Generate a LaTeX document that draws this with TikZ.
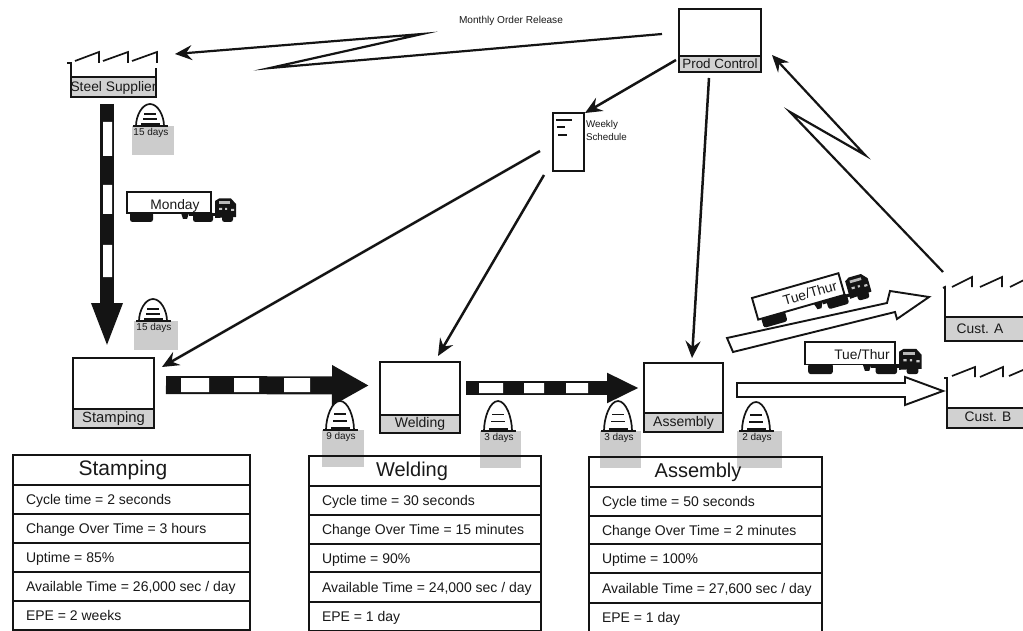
\documentclass[tikz,border=0pt]{standalone}
\usepackage{fontspec}
\setmainfont{Liberation Sans}
\usetikzlibrary{arrows.meta,fit,calc}
\definecolor{ink}{gray}{0.08}
\definecolor{txt}{gray}{0.1}
\definecolor{patch}{gray}{0.8}
\definecolor{lblgray}{gray}{0.82}
\newcommand\fs[1]{\fontsize{#1}{#1}\selectfont}
\tikzset{
  boxst/.style={draw=ink,line width=1.9pt,inner sep=0pt,outer sep=0pt},
  lblst/.style={draw=ink,line width=1.6pt,fill=lblgray,inner sep=0pt,outer sep=0pt},
  rowbox/.style={draw=ink,line width=1.5pt,inner sep=0pt,outer sep=0pt},
  txtst/.style={text=txt,inner sep=0pt,outer sep=0pt},
  rowtxt/.style={txtst,font=\fs{14},anchor=west,text height=10pt,text depth=3pt},
  signal/.style={draw=ink,line width=2.5pt,-{Stealth[length=17pt,width=15pt,inset=6pt]}},
  zig/.style={draw=ink,line width=2.2pt,line join=miter,miter limit=20,-{Stealth[length=17pt,width=15pt,inset=6pt]}},
  pushline/.style={draw=ink,line cap=butt},
  whitebar/.style={fill=white,draw=none},
  whitearrow/.style={draw=ink,line width=1.9pt,fill=white,line join=miter},
  roof/.style={draw=ink,line width=1.7pt},
  wall/.style={draw=ink,line width=1.8pt},
}
% process box: name, x1,y1,x2,y2, ydiv, label size, label
\newcommand\pbox[8]{%
  \node[boxst,fit={(#2,#3)(#4,#5)}] (#1) {};
  \node[lblst,fit={(#2,#6)(#4,#5)}] (#1-lbl) {};
  \node[txtst,font=\fs{#7}] (#1-txt) at (#1-lbl.center) {#8};
}
% inventory: name, cx, ybase, h, patch x1, patch x2, patch y2, text
\newcommand\inv[8]{%
  \fill[patch] (#5,#3) rectangle (#6,#7);
  \begin{scope}[shift={(#2,#3)}]
    \begin{scope}[yscale=#4/22]
      \draw[draw=ink,line width=1.7pt,fill=white] (-14,0) .. controls (-14,-10) and (-8,-22) .. (0,-22) .. controls (8,-22) and (14,-10) .. (14,0);
      \draw[draw=ink,line width=1.5pt] (-6,-12) -- (6,-12) (-7,-7) -- (7,-7);
    \end{scope}
    \draw[draw=ink,line width=2.8pt] (-9,-1.5) -- (10,-1.5);
    \draw[draw=ink,line width=1.5pt] (-17,0) -- (18,0);
    \node[txtst,font=\fs{10}] (#1) at (1,7) {#8};
  \end{scope}
}
% truck: name, x, y, rot, scale, text, text dx, text dy
\newcommand\truck[8]{%
  \begin{scope}[shift={(#2,#3)},rotate=#4,scale=#5]
    \fill[ink,rounded corners=2.5pt] (3,20) rectangle (26,30);
    \fill[ink] (54,21) -- (62,21) -- (60,27) -- (56,27) -- cycle;
    \fill[ink,rounded corners=2.5pt] (66,20) rectangle (86,30);
    \fill[ink] (62,21) rectangle (98,24);
    \fill[ink,rounded corners=2.5pt] (95,22) rectangle (106,30);
    \fill[ink] (88,9) -- (92,6.5) -- (104,6.5) -- (109,12) -- (109,25) -- (88,26) -- cycle;
    \fill[gray!55] (92,9.5) rectangle (103,12);
    \fill[gray!45] (92,16) rectangle (95,18) (98,16) rectangle (100,18) (104,17) rectangle (107,19);
    \draw[draw=ink,line width=1.9pt,fill=white] (0,0) rectangle (84,21);
  \end{scope}
  \node[txtst,font=\fs{13.8},rotate=#4] (#1) at ($(#2,#3)+(#7,#8)$) {#6};
}
\begin{document}
\begin{tikzpicture}[x=1pt,y=-1pt]
\clip (0,0) rectangle (1023,631);
\useasboundingbox (0,0) rectangle (1023,631);
\fill[white] (0,0) rectangle (1023,631);

% ---------- process boxes
\pbox{prod}{679}{9}{761}{72}{56}{13.4}{Prod Control}
\pbox{stamp}{73}{358}{154}{428}{409}{14.8}{Stamping}
\pbox{weld}{380}{362}{460}{433}{415}{14}{Welding}
\pbox{assy}{644}{363}{723}{432}{413}{14}{Assembly}

% ---------- steel supplier
\node[lblst,fit={(71,77)(156,97)}] (steel) {};
\node[txtst,font=\fs{13.8}] (steel-txt) at (113.5,88) {Steel Supplier};
\draw[wall] (71,77) -- (71,63) -- (67,63);
\draw[wall] (156,77) -- (156,68);
\draw[roof] (75,61) -- (99,52) -- (99,63) (103,61) -- (128,52) -- (128,63) (132,61) -- (157,52) -- (157,63);

% ---------- customers
\fill[lblgray] (945,317) rectangle (1030,341);
\node[inner sep=0pt,outer sep=0pt,fit={(945,317)(1030,341)}] (custa) {};
\draw[wall] (943,288) -- (945,287) -- (945,341) -- (1030,341) (945,317) -- (1030,317);
\draw[roof] (952,287) -- (972,277) -- (972,287) (980,287) -- (1002,277) -- (1002,287) (1010,287) -- (1030,277);
\node[txtst,font=\fs{13.8}] (custa-txt) at (980,329) {Cust. A};
\fill[lblgray] (947,408) rectangle (1030,428);
\node[inner sep=0pt,outer sep=0pt,fit={(947,408)(1030,428)}] (custb) {};
\draw[wall] (944,378) -- (947,378) -- (947,428) -- (1030,428) (947,408) -- (1030,408);
\draw[roof] (952,376) -- (975,367) -- (975,377) (980,377) -- (1003,367) -- (1003,377) (1009,376) -- (1030,367);
\node[txtst,font=\fs{13.8}] (custb-txt) at (988,417) {Cust. B};

% ---------- weekly schedule
\node[boxst,line width=1.6pt,fit={(553,113)(584,171)}] (sched) {};
\draw[draw=ink,line width=1.5pt] (556,120) -- (572,120) (557,127) -- (565,127) (558,135) -- (567,135);
\node[txtst,font=\fs{9.8},anchor=west] (sched-a) at (586,125) {Weekly};
\node[txtst,font=\fs{9.8},anchor=west] (sched-b) at (586,137) {Schedule};

\node[txtst,font=\fs{10.1}] (order) at (511,21) {Monthly Order Release};

% ---------- free ends of connectors
\coordinate (z1s) at (662,34);
\coordinate (z1a) at (270,68);
\coordinate (z1b) at (422,34);
\coordinate (z1e) at (175,54);
\coordinate (z2s) at (943,272);
\coordinate (z2a) at (790,112);
\coordinate (z2b) at (865,155);
\coordinate (z2e) at (772,55);
\coordinate (prodOutA) at (676,60);
\coordinate (schedIn) at (585,113);
\coordinate (prodOutB) at (709,78);
\coordinate (assyIn) at (692,358);
\coordinate (schedOutA) at (540,151);
\coordinate (stampIn) at (162,367);
\coordinate (schedOutB) at (544,175);
\coordinate (weldIn) at (438,356);

\draw[zig] (z1s) -- (z1a) -- (z1b) -- (z1e);
\draw[zig] (z2s) -- (z2a) -- (z2b) -- (z2e);
\draw[signal] (prodOutA) -- (schedIn);
\draw[signal] (prodOutB) -- (assyIn);
\draw[signal] (schedOutA) -- (stampIn);
\draw[signal] (schedOutB) -- (weldIn);

% ---------- push arrows
\coordinate (pushAs) at (107,104);
\coordinate (pushAe) at (107,348);
\coordinate (pushBs) at (166,385);
\coordinate (pushBe) at (369,385.5);
\coordinate (pushCs) at (466,388);
\coordinate (pushCe) at (639,388);
\draw[pushline,line width=14pt,-{Triangle[length=45pt,width=28pt]}] (pushAs) -- (pushAe);
\draw[pushline,line width=18pt,-{Triangle[length=37pt,width=38pt]}] (pushBs) -- (pushBe);
\draw[pushline,line width=14pt,-{Triangle[length=32pt,width=28pt]}] (pushCs) -- (pushCe);
\fill[whitebar] (103,122) rectangle (112,156) (103,185) rectangle (112,214) (103,245) rectangle (112,277);
\fill[whitebar] (181,378) rectangle (209,392) (234,378) rectangle (259,392) (284,378) rectangle (310,392);
\fill[whitebar] (479,383) rectangle (503,393) (524,383) rectangle (544,393) (566,383) rectangle (588,393);

% ---------- white shipment arrows
\draw[whitearrow] (727,338) -- (887,303) -- (890,291) -- (929,297) -- (897,319) -- (895,312) -- (733,352) -- cycle;
\draw[whitearrow] (737,383) -- (905,383) -- (905,377) -- (943,391) -- (905,405) -- (905,397) -- (737,397) -- cycle;

% ---------- trucks
\truck{truck1}{127}{192}{0}{1}{Monday}{48}{14}
\truck{truck2}{805}{342}{0}{1.07}{Tue/Thur}{57}{13}
\truck{truck3}{752}{298}{16}{1.07}{Tue/Thur}{58}{-5}

% ---------- inventories
\inv{inv1}{150}{126}{22}{132}{174}{155}{15 days}
\inv{inv2}{153}{321}{22}{134}{178}{350}{15 days}
\inv{inv3}{340}{430}{29}{322}{364}{467}{9 days}
\inv{inv4}{498}{431}{30}{480}{521}{468}{3 days}
\inv{inv5}{618}{431}{30}{600}{641}{468}{3 days}
\inv{inv6}{756}{431}{29}{737}{782}{468}{2 days}

% ---------- data boxes
\newcommand\drow[6]{%
  \node[rowbox,fit={(#2,#4)(#3,#5)}] (#1) {};
  \node[rowtxt] (#1-t) at ([xshift=13pt,yshift=-1.5pt]#1.west) {#6};
}
% name, x1,x2,y1,y2, size, text centre x, text
\newcommand\dtitle[8]{%
  \node[rowbox,fit={(#2,#4)(#3,#5)}] (#1) {};
  \node[txtst,font=\fs{#6},text height=15pt,text depth=4pt] (#1-t) at (#7,#4+15) {#8};
}
\dtitle{sa}{13}{250}{455}{485}{21}{123}{Stamping}
\drow{sb}{13}{250}{485}{514}{Cycle time = 2 seconds}
\drow{sc}{13}{250}{514}{543}{Change Over Time = 3 hours}
\drow{sd}{13}{250}{543}{572}{Uptime = 85\%}
\drow{se}{13}{250}{572}{601}{Available Time = 26,000 sec / day}
\drow{sf}{13}{250}{601}{630}{EPE = 2 weeks}

\dtitle{wa}{309}{541}{456}{486}{20}{412}{Welding}
\drow{wb}{309}{541}{486}{515}{Cycle time = 30 seconds}
\drow{wc}{309}{541}{515}{544}{Change Over Time = 15 minutes}
\drow{wd}{309}{541}{544}{572}{Uptime = 90\%}
\drow{we}{309}{541}{572}{602}{Available Time = 24,000 sec / day}
\drow{wf}{309}{541}{602}{631}{EPE = 1 day}

\dtitle{aa}{589}{822}{457}{487}{20}{698}{Assembly}
\drow{ab}{589}{822}{487}{516}{Cycle time = 50 seconds}
\drow{ac}{589}{822}{516}{544}{Change Over Time = 2 minutes}
\drow{ad}{589}{822}{544}{573}{Uptime = 100\%}
\drow{ae}{589}{822}{573}{603}{Available Time = 27,600 sec / day}
\drow{af}{589}{822}{603}{632}{EPE = 1 day}
\end{tikzpicture}
\end{document}
